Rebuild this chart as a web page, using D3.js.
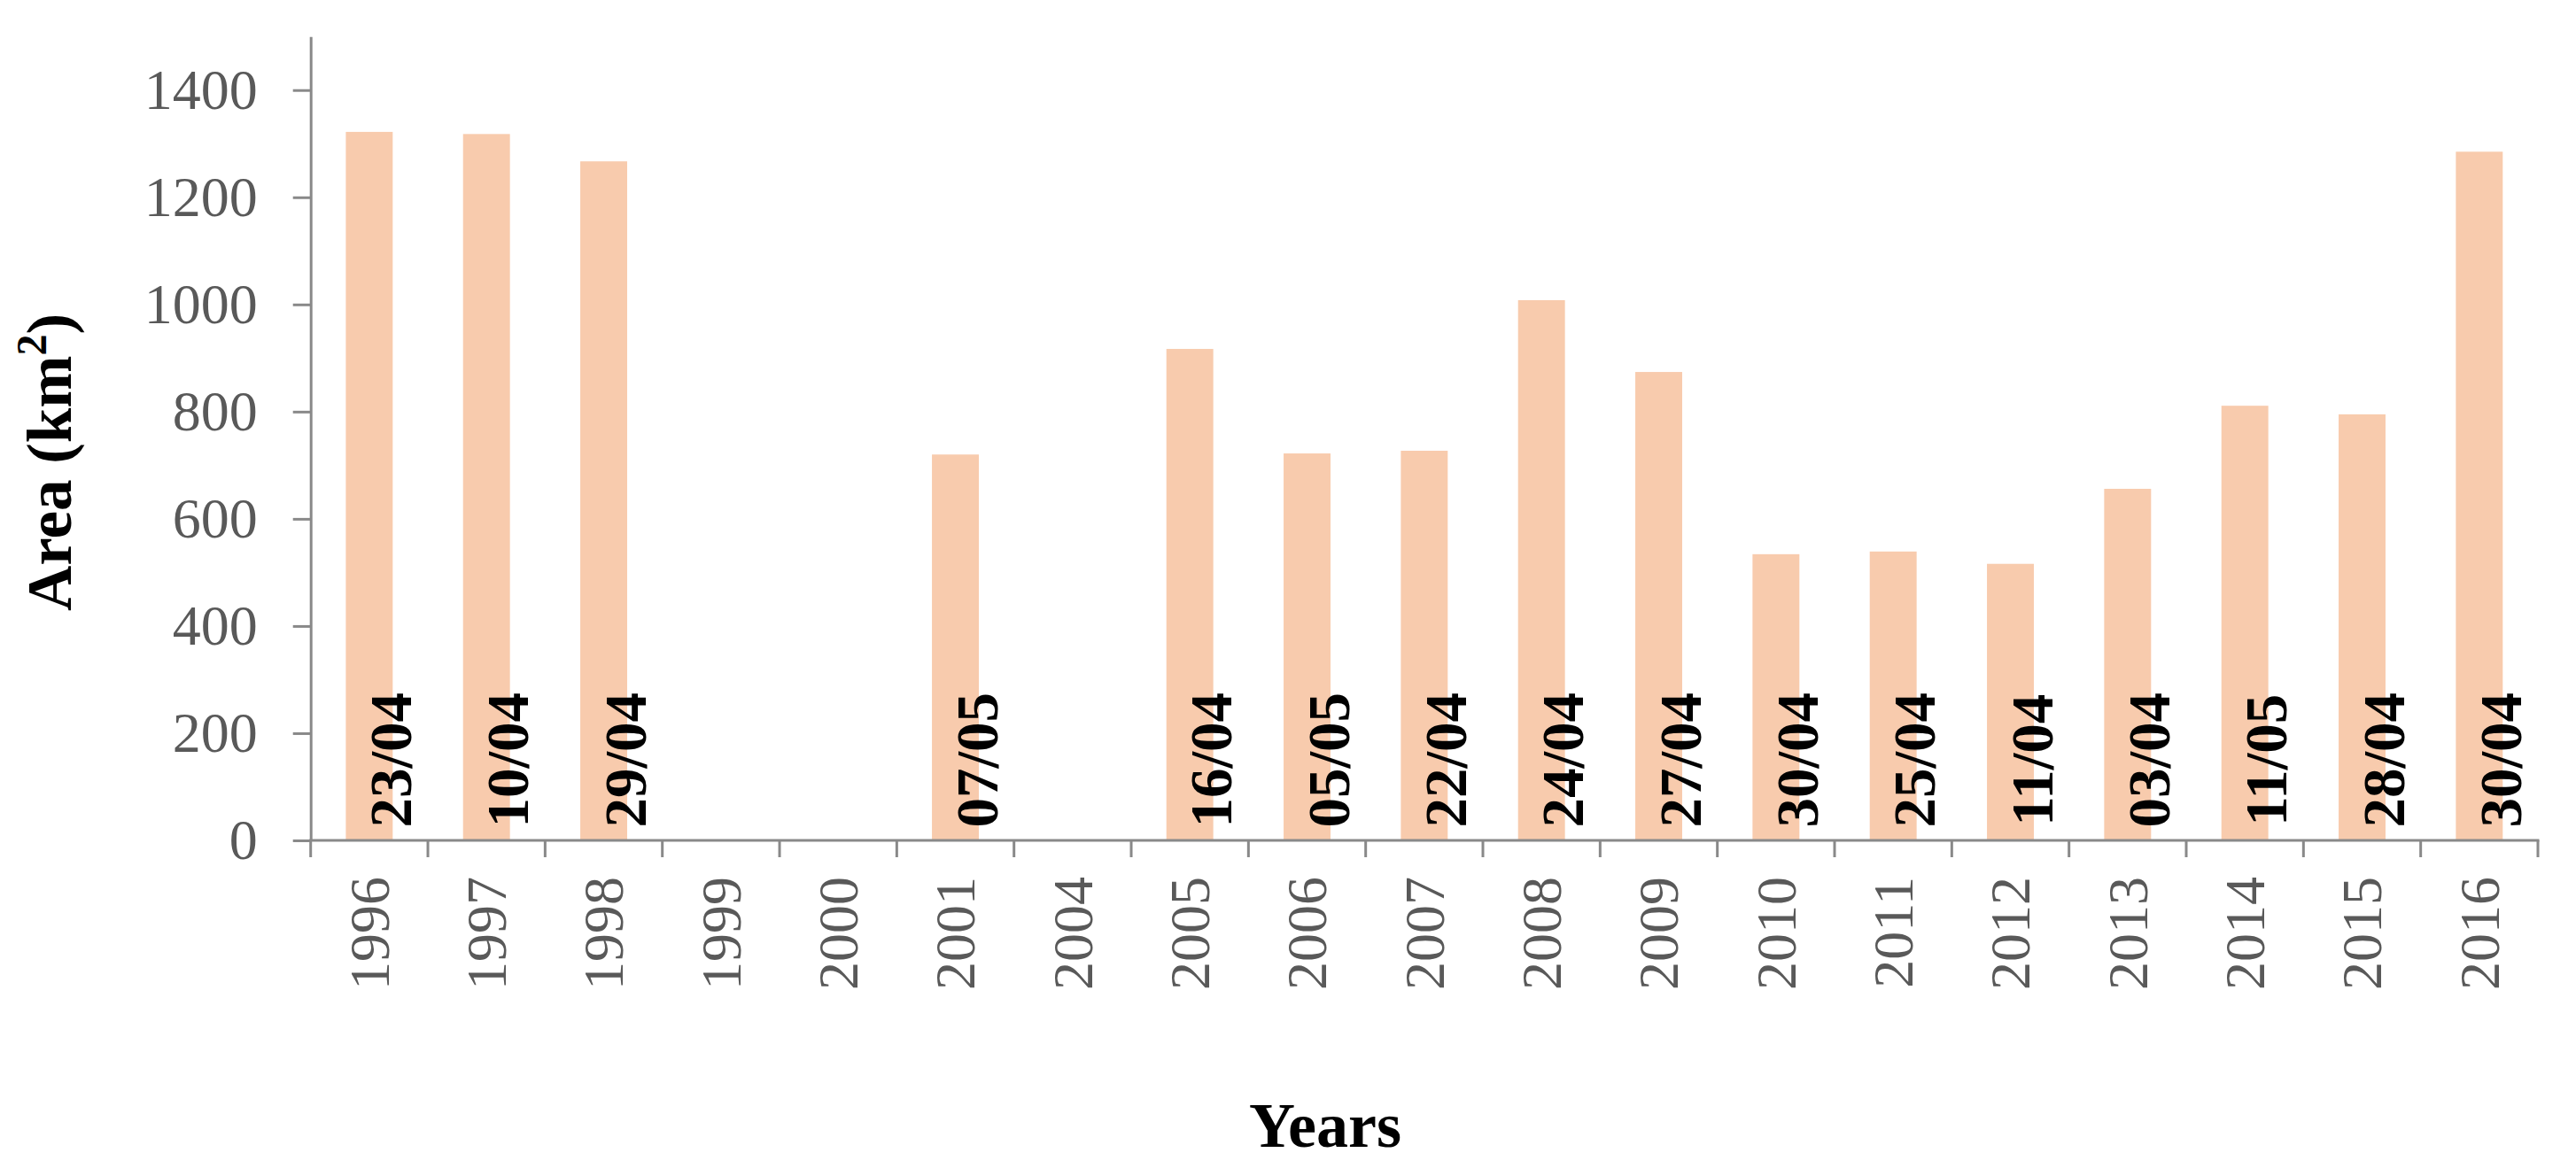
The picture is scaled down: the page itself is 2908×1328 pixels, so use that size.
<!DOCTYPE html>
<html>
<head>
<meta charset="utf-8">
<script src="https://cdn.jsdelivr.net/npm/d3@7"></script>
<style>
    body { margin: 0; background: #fff; }
    svg { display: block; }
    .axis text { font-family: "Liberation Serif", "Times New Roman", serif; fill: #595959; }
    .axis path, .axis line { stroke: #898989; stroke-width: 3; }
    .date-label { font-family: "Liberation Serif", "Times New Roman", serif; font-weight: bold; fill: #000; }
    .title { font-family: "Liberation Serif", "Times New Roman", serif; font-weight: bold; fill: #000; }
</style>
</head>
<body>
<div id="chart"></div>
<script>
// years on the axis (1999, 2000 and 2004 have no image)
var years = ["1996", "1997", "1998", "1999", "2000", "2001", "2004", "2005", "2006", "2007",
             "2008", "2009", "2010", "2011", "2012", "2013", "2014", "2015", "2016"];
// area in km2
var areas = [1322, 1318, 1267, null, null, 720, null, 917, 722, 727,
             1008, 874, 534, 539, 516, 656, 811, 795, 1285];
// acquisition date (dd/mm)
var dates = ["23/04", "10/04", "29/04", "", "", "07/05", "", "16/04", "05/05", "22/04",
             "24/04", "27/04", "30/04", "25/04", "11/04", "03/04", "11/05", "28/04", "30/04"];
var yTicks = [0, 200, 400, 600, 800, 1000, 1200, 1400];
var yMax = 1500;

var svg_width = 2908, svg_height = 1328;
var plot = {left: 350.7, right: 2865, bottom: 949, top: 41.2};

var svg = d3.select("#chart").append("svg")
    .attr("width", svg_width)
    .attr("height", svg_height);

var x = d3.scaleBand()
    .domain(years)
    .range([plot.left, plot.right])
    .paddingInner(0.6)
    .paddingOuter(0.3);
var step = x.step();

var y = d3.scaleLinear()
    .domain([0, yMax])
    .range([plot.bottom, plot.top]);

var data = years.map(function(d, i) { return {year: d, area: areas[i], date: dates[i]}; });

// bars
svg.append("g").selectAll("rect")
    .data(data.filter(function(d) { return d.area !== null; }))
  .enter().append("rect")
    .attr("x", function(d) { return x(d.year); })
    .attr("y", function(d) { return y(d.area); })
    .attr("width", x.bandwidth())
    .attr("height", function(d) { return y(0) - y(d.area); })
    .attr("fill", "#F8CBAD");

// y axis
var yAxis = d3.axisLeft(y)
    .tickValues(yTicks)
    .tickFormat(d3.format("d"))
    .tickSizeInner(20)
    .tickSizeOuter(0)
    .tickPadding(40);

svg.append("g")
    .attr("class", "axis axis--y")
    .attr("transform", "translate(" + plot.left + ",0)")
    .call(yAxis)
    .call(function(g) { g.selectAll("text").style("font-size", "64px"); });

// x axis: excel style, ticks between the categories
var xAxis = svg.append("g").attr("class", "axis axis--x");
xAxis.append("line")
    .attr("x1", plot.left).attr("x2", plot.right)
    .attr("y1", plot.bottom).attr("y2", plot.bottom)
    .attr("stroke-linecap", "square");
xAxis.selectAll(".tick-line")
    .data(d3.range(years.length + 1))
  .enter().append("line")
    .attr("class", "tick-line")
    .attr("x1", function(i) { return plot.left + i * step; })
    .attr("x2", function(i) { return plot.left + i * step; })
    .attr("y1", plot.bottom)
    .attr("y2", plot.bottom + 19);
xAxis.selectAll(".tick-label")
    .data(years)
  .enter().append("text")
    .attr("class", "tick-label")
    .attr("transform", function(d) {
        return "translate(" + (x(d) + x.bandwidth() / 2) + "," + (plot.bottom + 41) + ") rotate(-90)";
    })
    .attr("text-anchor", "end")
    .attr("dy", "0.34em")
    .style("font-size", "64px")
    .text(function(d) { return d; });

// date labels, set to the right of each bar
svg.append("g").selectAll(".date-label")
    .data(data.filter(function(d) { return d.date !== ""; }))
  .enter().append("text")
    .attr("class", "date-label")
    .attr("transform", function(d) {
        return "translate(" + (x(d.year) + x.bandwidth() / 2 + 0.185 * step) + "," + y(150) + ") rotate(-90)";
    })
    .attr("text-anchor", "middle")
    .attr("dy", "0.34em")
    .style("font-size", "67px")
    .text(function(d) { return d.date; });

// axis titles
var yTitle = svg.append("text")
    .attr("class", "title")
    .attr("transform", "translate(80,522) rotate(-90)")
    .attr("text-anchor", "middle")
    .style("font-size", "71px");
yTitle.append("tspan").text("Area (km");
yTitle.append("tspan").attr("dy", -28).style("font-size", "48px").text("2");
yTitle.append("tspan").attr("dy", 28).text(")");

svg.append("text")
    .attr("class", "title")
    .attr("x", 1496)
    .attr("y", 1295)
    .attr("text-anchor", "middle")
    .style("font-size", "72px")
    .text("Years");
</script>
</body>
</html>
